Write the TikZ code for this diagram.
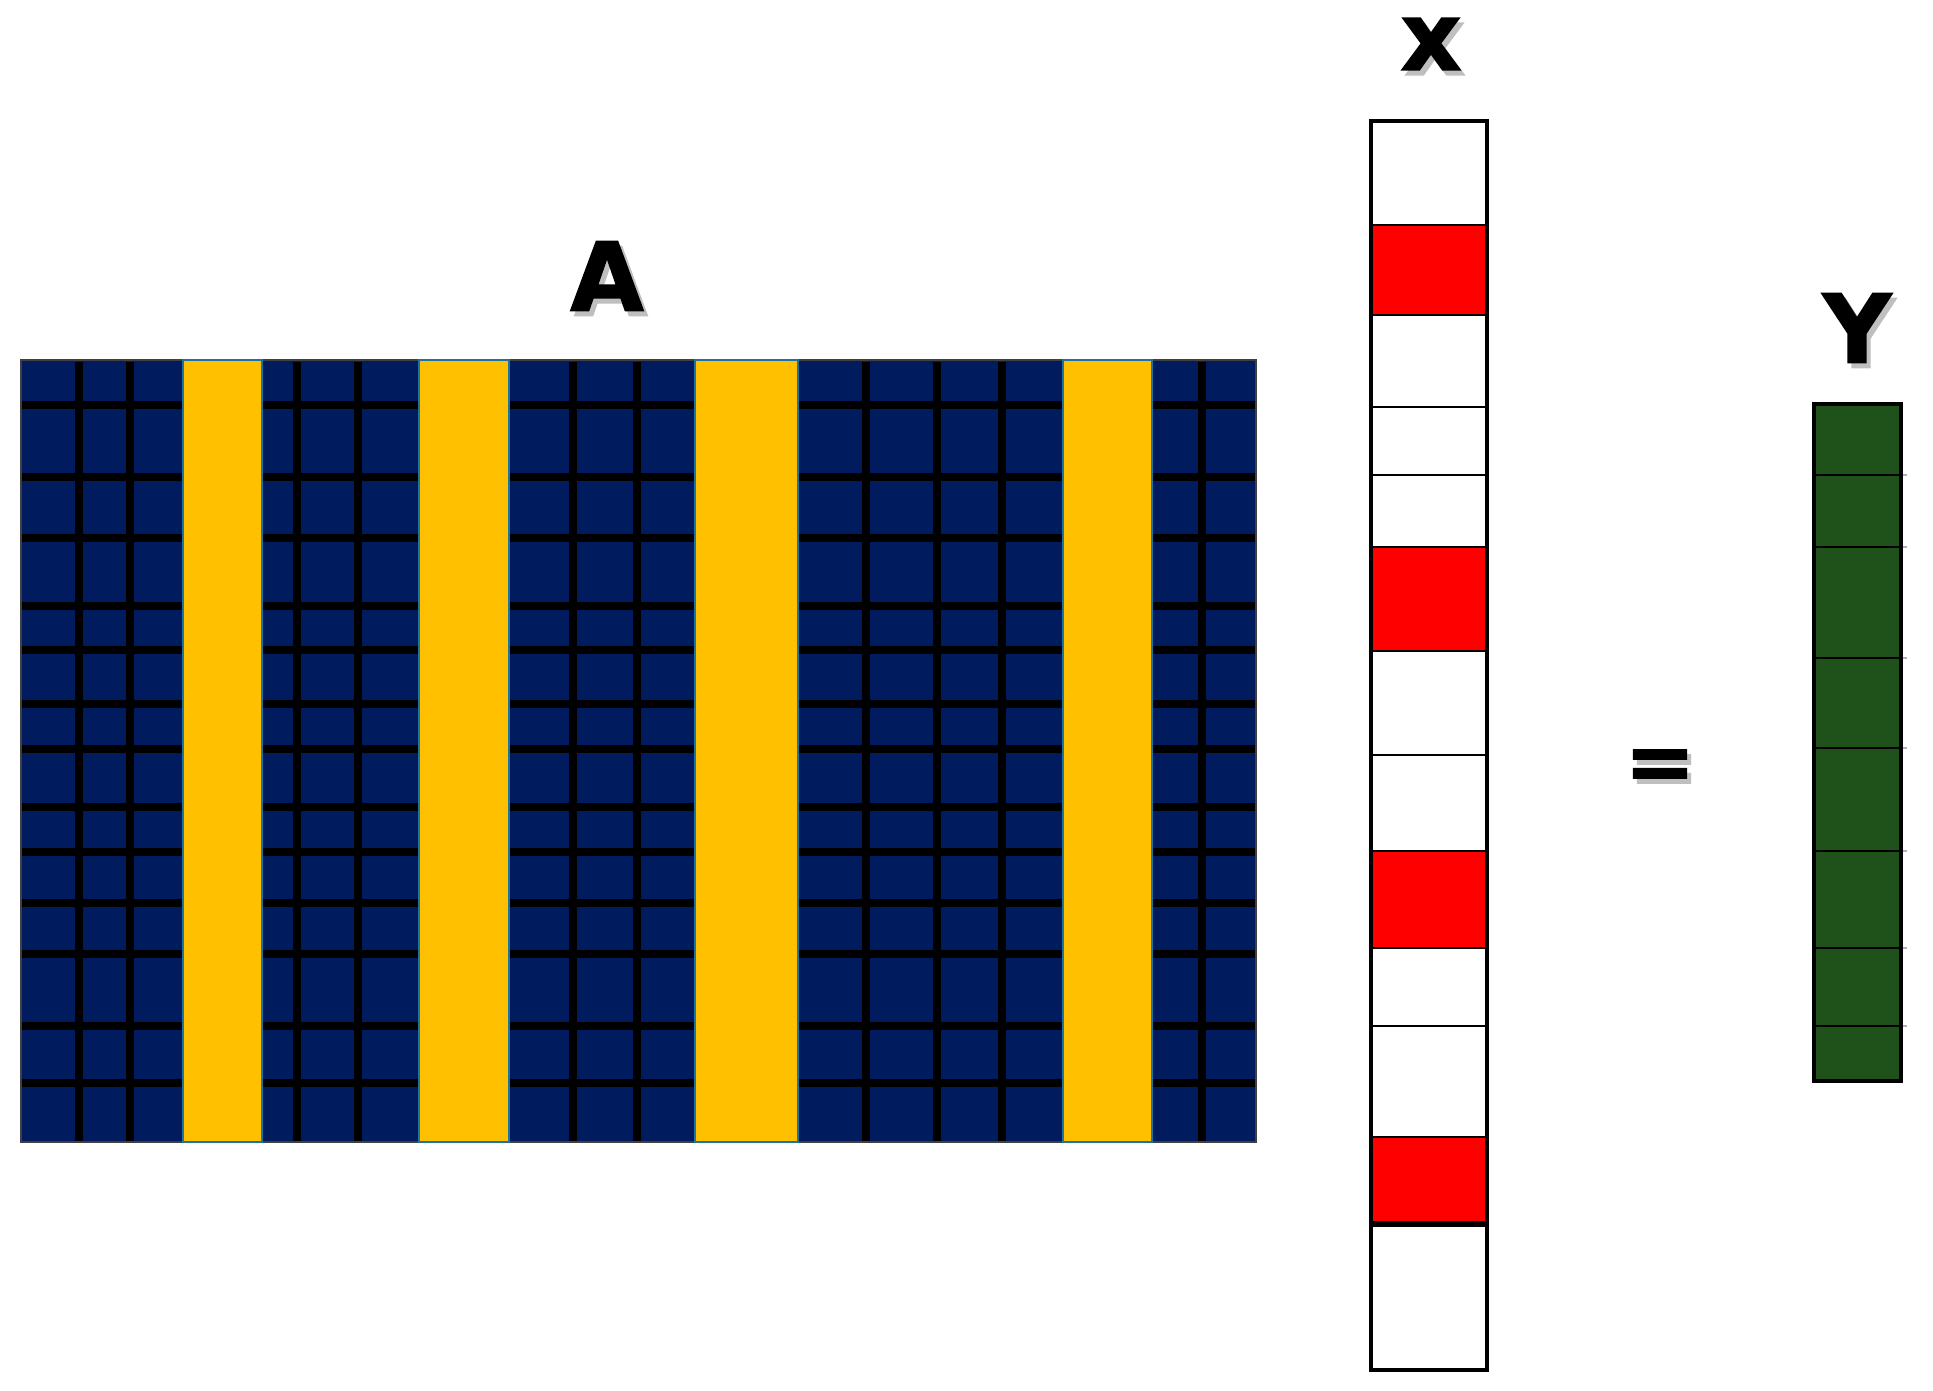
\documentclass[tikz,border=0pt]{standalone}
\usepackage{fontspec}
\newfontfamily\heavyfont{DejaVu Sans}[UprightFont={* Bold},FakeBold=1.5]
\definecolor{navy}{RGB}{0,27,94}
\definecolor{gold}{HTML}{FFC000}
\definecolor{tealedge}{RGB}{30,115,160}
\definecolor{vred}{HTML}{FF0000}
\definecolor{vgreen}{RGB}{31,82,26}
\tikzset{
  gridline/.style={black,line width=2pt},
  matborder/.style={draw=black!75,line width=0.6pt},
  ycol/.style={fill=gold,draw=tealedge,line width=0.7pt},
  vecline/.style={black,line width=0.75pt},
  vecborder/.style={draw=black,line width=0.95pt},
  lbl/.style={inner sep=0pt,font=\heavyfont\fontsize{27}{30}\selectfont,text=black},
  lblshadow/.style={inner sep=0pt,font=\heavyfont\fontsize{27}{30}\selectfont,text=black!25},
}
\begin{document}
\begin{tikzpicture}[x=0.01cm,y=-0.01cm]
\useasboundingbox (0,0) rectangle (1933,1391);
\fill[white] (0,0) rectangle (1933,1391);

% ---------------- matrix A ----------------
\fill[navy] (21,360) rectangle (1256,1142);
\foreach \yy in {405,477,538,606,650,704,749,807,852,903,954,1026,1083}
  \draw[gridline] (21,\yy) -- (1256,\yy);
\foreach \xx in {79,130,297,358,573,637,866,937,1002,1202}
  \draw[gridline] (\xx,362) -- (\xx,1142);
\draw[matborder] (21,360) rectangle (1256,1142);
\foreach \xa/\xb in {183/262,419/509,695/798,1063/1152}
  \draw[ycol] (\xa,360) rectangle (\xb,1142);

% ---------------- vector x ----------------
\fill[white] (1371,121) rectangle (1487,1370);
\foreach \ya/\yb in {225/315,547/651,851/948,1137/1224}
  \fill[vred] (1371,\ya) rectangle (1487,\yb);
\foreach \yy in {225,315,407,475,547,651,755,851,948,1026,1137}
  \draw[vecline] (1371,\yy) -- (1487,\yy);
\draw[black,line width=1.5pt] (1371,1224) -- (1487,1224);
\draw[vecborder] (1371,121) rectangle (1487,1370);

% ---------------- vector Y ----------------
\fill[vgreen] (1814,404) rectangle (1901,1081);
\foreach \yy in {475,547,658,748,851,948,1026}{
  \draw[vecline] (1814,\yy) -- (1901,\yy);
  \draw[black!30,line width=0.6pt] (1901,\yy) -- (1907,\yy);
}
\draw[vecborder] (1814,404) rectangle (1901,1081);

% ---------------- labels ----------------
\node[lblshadow] (labAs) at (611,281) {A};
\node[lbl] (labA) at (607,276) {A};
\node[lblshadow] (labxs) at (1435,49) {x};
\node[lbl] (labx) at (1431,44) {x};
\node[lblshadow] (labYs) at (1861,333) {Y};
\node[lbl] (labY) at (1857,328) {Y};
\node[lblshadow,font=\heavyfont\fontsize{24}{28}\selectfont] (labeqs) at (1664,775) {=};
\node[lbl,font=\heavyfont\fontsize{24}{28}\selectfont] (labeq) at (1660,770) {=};
\end{tikzpicture}
\end{document}
